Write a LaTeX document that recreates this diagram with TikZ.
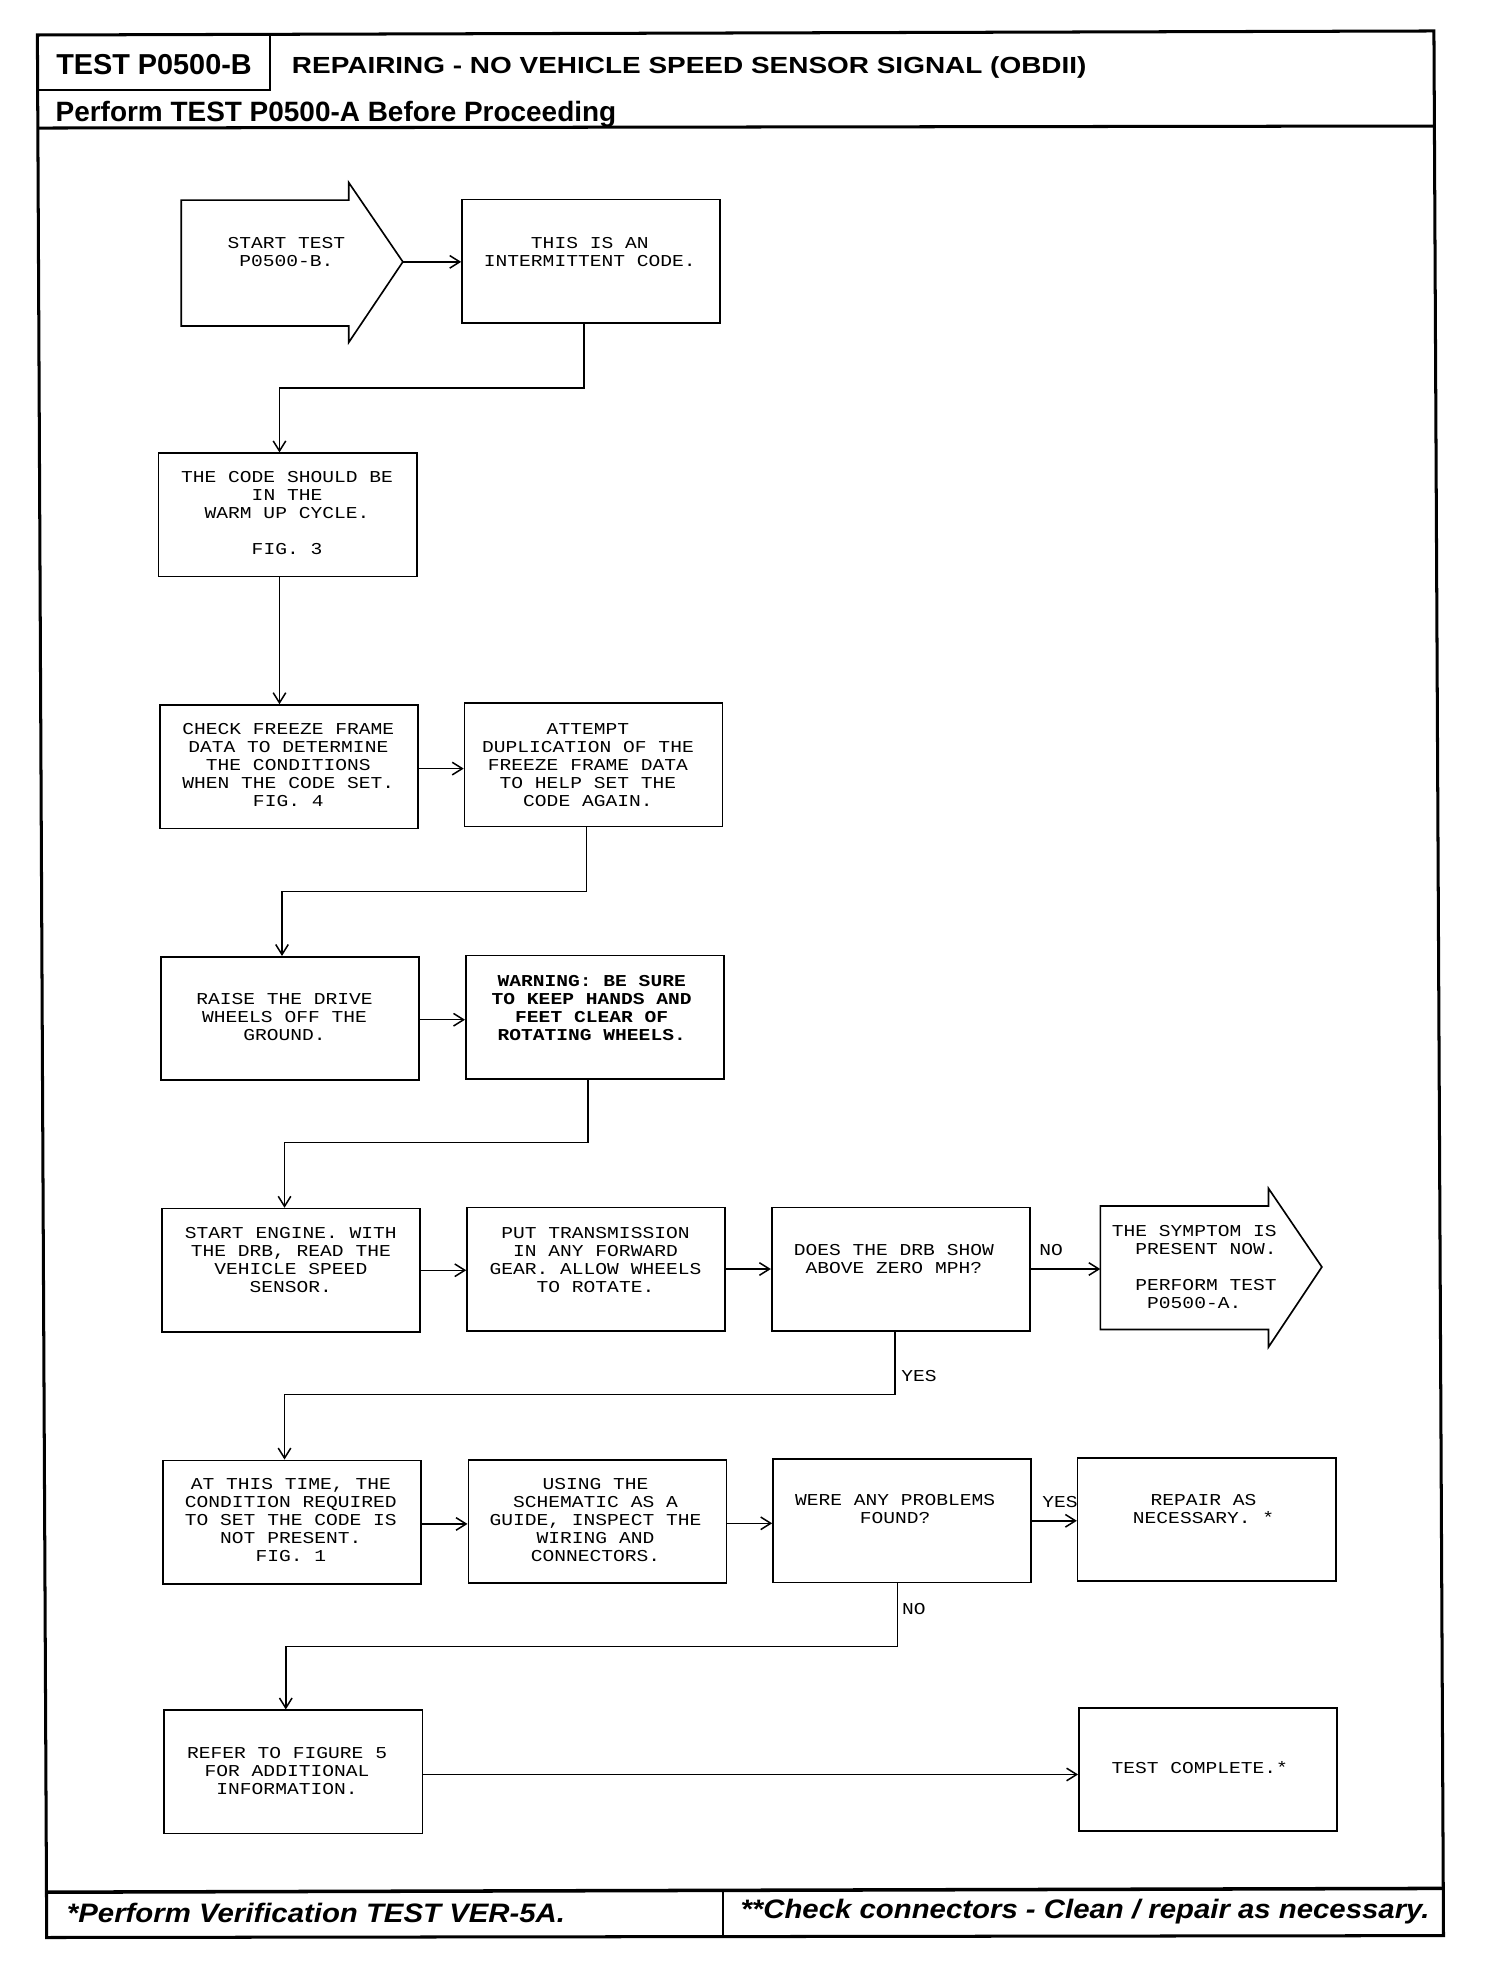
\documentclass[tikz,border=0pt]{standalone}
\usepackage{fontspec}
\usetikzlibrary{arrows.meta,calc}
\newfontfamily\monof[FakeStretch=1.18]{Liberation Mono}
\newfontfamily\sansf{Liberation Sans}
\newfontfamily\titlef[FakeStretch=1.2]{Liberation Sans}
\newfontfamily\footf[FakeStretch=1.1]{Liberation Sans}
\tikzset{
  box/.style={draw, line width=1.3pt, minimum width=205pt, minimum height=98pt, inner sep=0pt},
  txt/.style={font=\monof\fontsize{13.2}{14.3}\selectfont, align=center, inner sep=0pt},
  wtxt/.style={font=\monof\bfseries\fontsize{13.2}{14.3}\selectfont, align=center, inner sep=0pt},
  lbl/.style={font=\monof\fontsize{13.2}{14.3}\selectfont, inner sep=0pt},
  conn/.style={line width=1.2pt, -{Straight Barb[length=8pt,width=10pt,line width=1.2pt]}},
  framel/.style={line width=2.4pt},
  hbig/.style={anchor=base west, inner sep=0pt, font=\sansf\bfseries\fontsize{22.9}{26}\selectfont},
  htitle/.style={anchor=base west, inner sep=0pt, font=\titlef\bfseries\fontsize{18.5}{22}\selectfont},
  hperf/.style={anchor=base west, inner sep=0pt, font=\sansf\bfseries\fontsize{22.2}{26}\selectfont},
  hfoot/.style={anchor=base west, inner sep=0pt, font=\footf\bfseries\itshape\fontsize{21.2}{25}\selectfont}
}
\begin{document}
\begin{tikzpicture}[x=1pt,y=-1pt]
\useasboundingbox (0,0) rectangle (1195,1568);

% ---- outer frame, header and footer ----
\draw[framel] (29.7,27.8) -- (1139,24.6) -- (1146.6,1537.5) -- (37.1,1539) -- cycle;
\draw[line width=1.8pt] (214.5,27.3) -- (214.5,71.5) -- (29.9,71.5);
\draw[framel] (30.2,101.7) -- (1139.5,100.1);
\draw[line width=2.8pt] (37,1503) -- (1146.4,1500);
\draw[line width=1.8pt] (574,1502) -- (574,1538.5);

\node[hbig] (hdtest) at (44.5,58.8) {TEST P0500-B};
\node[htitle] (hdtitle) at (231.7,58.3) {REPAIRING - NO VEHICLE SPEED SENSOR SIGNAL (OBDII)};
\node[hperf] (hdperf) at (44,96.7) {Perform TEST P0500-A Before Proceeding};
\node[hfoot] (ftl) at (53,1527) {*Perform Verification TEST VER-5A.};
\node[hfoot] (ftr) at (588,1524) {**Check connectors - Clean / repair as necessary.};

% ---- start arrow ----
\draw[line width=1.3pt] (144,159) -- (277,159) -- (277,145) -- (320,208) -- (277,272) -- (277,259) -- (144,259) -- cycle;
\coordinate (b1tip) at (320,208);
\node[txt] (t1) at (227.5,200) {START TEST\\P0500-B.};

% ---- boxes ----
\node[box] (b2) at (469.5,207.5) {};
\node[txt] (t2) at (468.5,200) {THIS IS AN\\INTERMITTENT CODE.};

\node[box] (b3) at (228.5,409) {};
\node[txt] (t3) at (228,407.5) {THE CODE SHOULD BE\\IN THE\\WARM UP CYCLE.\\[14.3pt]FIG. 3};

\node[box] (b4) at (229.5,609) {};
\node[txt] (t4) at (229,607.5) {CHECK FREEZE FRAME\\DATA TO DETERMINE\\THE CONDITIONS\\WHEN THE CODE SET.\\FIG. 4};

\node[box] (b5) at (471.5,607.5) {};
\node[txt] (t5) at (467,607.5) {ATTEMPT\\DUPLICATION OF THE\\FREEZE FRAME DATA\\TO HELP SET THE\\CODE AGAIN.};

\node[box] (b6) at (230.5,809) {};
\node[txt] (t6) at (226,807.5) {RAISE THE DRIVE\\WHEELS OFF THE\\GROUND.};

\node[box] (b7) at (472.5,808) {};
\node[wtxt] (t7) at (470,800.5) {WARNING: BE SURE\\TO KEEP HANDS AND\\FEET CLEAR OF\\ROTATING WHEELS.};

\node[box] (b8) at (231,1009) {};
\node[txt] (t8) at (231,1000.5) {START ENGINE. WITH\\THE DRB, READ THE\\VEHICLE SPEED\\SENSOR.};

\node[box] (b9) at (473.5,1008) {};
\node[txt] (t9) at (473,1000.5) {PUT TRANSMISSION\\IN ANY FORWARD\\GEAR. ALLOW WHEELS\\TO ROTATE.};

\node[box] (b10) at (715.5,1008) {};
\node[txt] (t10) at (710,1000) {DOES THE DRB SHOW\\ABOVE ZERO MPH?};

% ---- symptom arrow ----
\draw[line width=1.3pt] (874,958) -- (1007.6,958) -- (1007.6,944) -- (1050,1006.4) -- (1007.6,1070) -- (1007.6,1056) -- (874,1056) -- cycle;
\coordinate (b11w) at (874,1008);
\node[txt, align=left, anchor=west] (t11) at (883,1006.5) {THE SYMPTOM IS\\\phantom{TH}PRESENT NOW.\\[14.3pt]\phantom{TH}PERFORM TEST\\\phantom{THE}P0500-A.};

\node[box] (b12) at (232,1209) {};
\node[txt] (t12) at (231,1207.5) {AT THIS TIME, THE\\CONDITION REQUIRED\\TO SET THE CODE IS\\NOT PRESENT.\\FIG. 1};

\node[box] (b13) at (474.5,1208.5) {};
\node[txt] (t13) at (473,1207.5) {USING THE\\SCHEMATIC AS A\\GUIDE, INSPECT THE\\WIRING AND\\CONNECTORS.};

\node[box] (b14) at (716.5,1208) {};
\node[txt] (t14) at (711,1199) {WERE ANY PROBLEMS\\FOUND?};

\node[box] (b15) at (958.5,1207) {};
\node[txt] (t15) at (956,1199) {REPAIR AS\\NECESSARY. *};

\node[box] (b16) at (233,1407.5) {};
\node[txt] (t16) at (228,1406.5) {REFER TO FIGURE 5\\FOR ADDITIONAL\\INFORMATION.};

\node[box] (b17) at (959.5,1405.5) {};
\node[txt] (t17) at (953,1404) {TEST COMPLETE.*};

% ---- connectors ----
\draw[conn] (b1tip) -- (b1tip -| b2.west);
\draw[conn] ([xshift=-5.5pt]b2.south) -- ++(0,51) -| ([xshift=-6.5pt]b3.north);
\draw[conn] ([xshift=-6.5pt]b3.south) -- ([xshift=-6.5pt]b3.south |- b4.north);
\draw[conn] ([yshift=-1.5pt]b4.east) -- ([yshift=-1.5pt]b4.east -| b5.west);
\draw[conn] ([xshift=-5.5pt]b5.south) -- ++(0,51) -| ([xshift=-6.5pt]b6.north);
\draw[conn] ([yshift=-1pt]b6.east) -- ([yshift=-1pt]b6.east -| b7.west);
\draw[conn] ([xshift=-5.5pt]b7.south) -- ++(0,50) -| ([xshift=-5pt]b8.north);
\draw[conn] (b8.east) -- (b8.east -| b9.west);
\draw[conn] (b9.east) -- (b9.east -| b10.west);
\draw[conn] (b10.east) -- (b10.east -| b11w);
\draw[conn] ([xshift=-4.5pt]b10.south) -- ++(0,50) -| ([xshift=-6pt]b12.north);
\draw[conn] ([yshift=-1.5pt]b12.east) -- ([yshift=-1.5pt]b12.east -| b13.west);
\draw[conn] ([yshift=-1.5pt]b13.east) -- ([yshift=-1.5pt]b13.east -| b14.west);
\draw[conn] (b14.east) -- (b14.east -| b15.west);
\draw[conn] ([xshift=-3.5pt]b14.south) -- ++(0,50) -| ([xshift=-6pt]b16.north);
\draw[conn] ([yshift=-2pt]b16.east) -- ([yshift=-2pt]b16.east -| b17.west);

% ---- branch labels ----
\node[lbl] (lno1) at (835,993) {NO};
\node[lbl] (lyes1) at (730,1093) {YES};
\node[lbl] (lyes2) at (842,1193) {YES};
\node[lbl] (lno2) at (726,1278) {NO};
\end{tikzpicture}
\end{document}
